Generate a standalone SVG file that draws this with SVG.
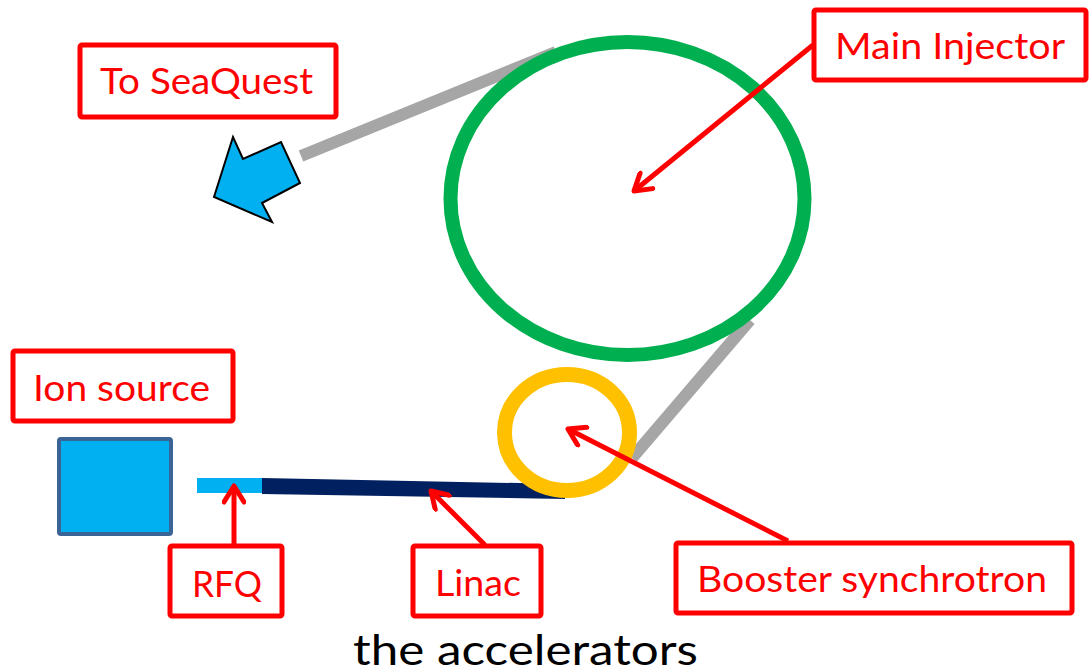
<svg xmlns="http://www.w3.org/2000/svg" width="1089" height="672" viewBox="0 0 1089 672">
<defs>
<style>
.box{fill:#fff;stroke:#FF0000;stroke-width:5;}
.lbl{fill:#FF0000;font-family:Lato,"Open Sans","Liberation Sans",sans-serif;font-size:37px;}
.conn{stroke:#FF0000;stroke-width:5;fill:none;marker-end:url(#ah);}
.beam{stroke:#A6A6A6;stroke-width:12;fill:none;}
</style>
<marker id="ah" viewBox="-20 -12 24 24" markerWidth="24" markerHeight="24" refX="0" refY="0" orient="auto" markerUnits="userSpaceOnUse">
<path d="M-16,-10 L0,0 L-16,10" fill="none" stroke="#FF0000" stroke-width="5" stroke-linecap="round" stroke-linejoin="round"/>
</marker>
</defs>
<rect width="1089" height="672" fill="#fff"/>
<g id="beamlines">
<line class="beam" x1="301" y1="156" x2="556" y2="52"/>
<line class="beam" x1="632" y1="458" x2="750" y2="320"/>
</g>
<g id="main-injector-ring">
<ellipse cx="627.5" cy="198.5" rx="177" ry="156.5" fill="none" stroke="#00B050" stroke-width="14"/>
</g>
<g id="linac-bar">
<polygon points="262,478 262,494 565,499 565,484" fill="#002060"/>
</g>
<g id="booster-ring">
<ellipse cx="567" cy="432.5" rx="62.5" ry="58" fill="none" stroke="#FFC000" stroke-width="15"/>
</g>
<g id="rfq-bar">
<rect x="197" y="478" width="65" height="15" fill="#00B0F0"/>
</g>
<g id="ion-source-block">
<rect x="59" y="439" width="112" height="95" rx="2" fill="#00B0F0" stroke="#3B6496" stroke-width="4"/>
</g>
<g id="seaquest-arrow">
<polygon points="214,197 233,137 243,159 281,142 300,183 262,203 272,222" fill="#00B0F0" stroke="#000" stroke-width="2" stroke-linejoin="miter"/>
</g>
<g id="connectors">
<line class="conn" x1="813" y1="45" x2="634" y2="191"/>
<line class="conn" x1="788" y1="541" x2="568" y2="429"/>
<line class="conn" x1="234" y1="545" x2="234" y2="486"/>
<line class="conn" x1="485" y1="545" x2="431" y2="491"/>
</g>
<g id="to-seaquest">
<rect class="box" x="80" y="45" width="256" height="72" rx="2"/>
<text class="lbl" x="100" y="94" textLength="213" lengthAdjust="spacingAndGlyphs">To SeaQuest</text>
</g>
<g id="main-injector">
<rect class="box" x="814" y="10" width="272" height="70" rx="2"/>
<text class="lbl" x="835" y="59" textLength="230" lengthAdjust="spacingAndGlyphs">Main Injector</text>
</g>
<g id="ion-source">
<rect class="box" x="13" y="351" width="220" height="70" rx="2"/>
<text class="lbl" x="33" y="401" textLength="177" lengthAdjust="spacingAndGlyphs">Ion source</text>
</g>
<g id="rfq">
<rect class="box" x="170" y="546" width="112" height="70" rx="2"/>
<text class="lbl" x="192" y="597" textLength="70" lengthAdjust="spacingAndGlyphs">RFQ</text>
</g>
<g id="linac">
<rect class="box" x="413" y="546" width="128" height="70" rx="2"/>
<text class="lbl" x="435" y="596" textLength="86" lengthAdjust="spacingAndGlyphs">Linac</text>
</g>
<g id="booster-synchrotron">
<rect class="box" x="676" y="543" width="396" height="70" rx="2"/>
<text class="lbl" x="697" y="592" textLength="350" lengthAdjust="spacingAndGlyphs">Booster synchrotron</text>
</g>
<text x="353" y="665" font-family="Lato,'Open Sans','Liberation Sans',sans-serif" font-size="42" fill="#000" textLength="345" lengthAdjust="spacingAndGlyphs">the accelerators</text>
</svg>
